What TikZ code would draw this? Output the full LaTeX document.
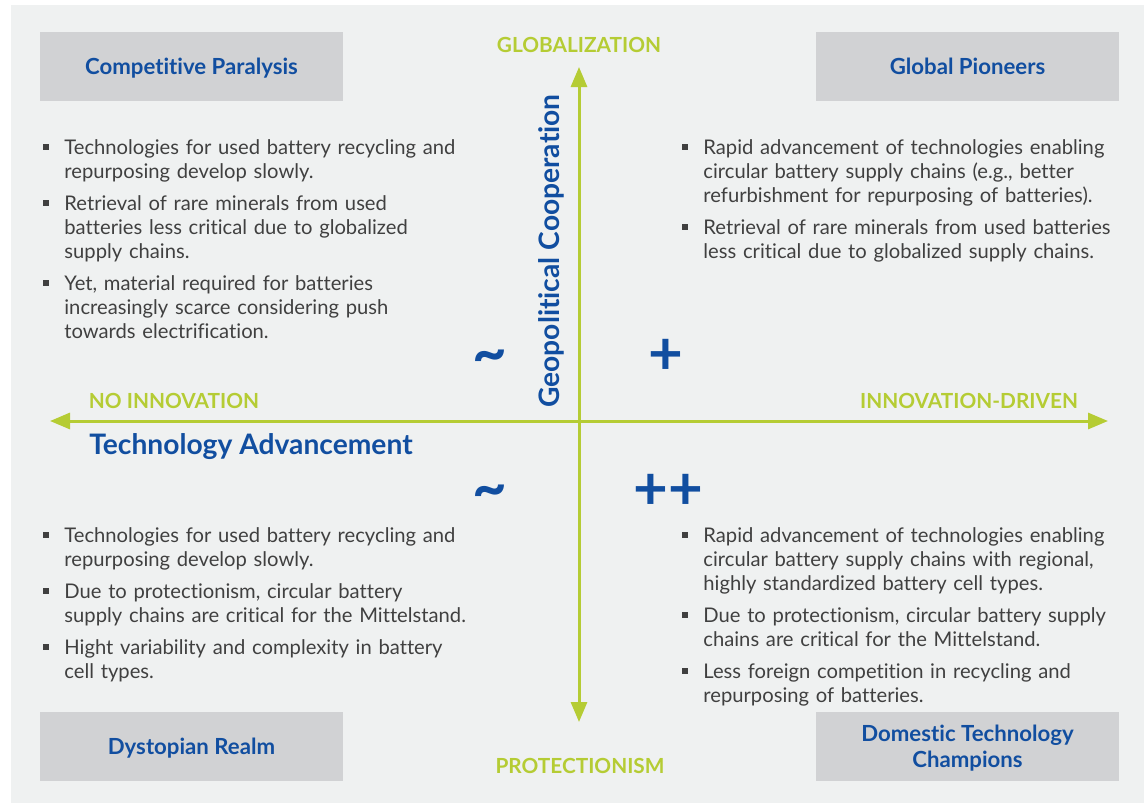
\documentclass[tikz,border=0pt]{standalone}
\usepackage{fontspec}
\setmainfont{Lato}[Ligatures={NoCommon}]
\usetikzlibrary{arrows.meta,calc}
\definecolor{bgc}{RGB}{239,241,241}
\definecolor{boxc}{RGB}{209,210,212}
\definecolor{bluec}{RGB}{17,78,160}
\definecolor{greenc}{RGB}{181,204,52}
\definecolor{textc}{RGB}{64,64,64}
\tikzset{
  titlebox/.style={fill=boxc, minimum width=151.5pt, minimum height=34.5pt, inner sep=0pt,
    text=bluec, font=\fontsize{11.1}{13}\selectfont\bfseries, align=center, text depth=0pt},
  bul/.style={anchor=base west, inner sep=0pt, text width=240pt, align=left,
    text=textc, font=\fontsize{10.1}{12}\selectfont},
  sq/.style={fill=textc, minimum size=3.4pt, inner sep=0pt},
  glab/.style={text=greenc, font=\fontsize{10.4}{11}\selectfont\bfseries, inner sep=0pt},
  axlab/.style={text=bluec, font=\fontsize{14.1}{16}\selectfont\bfseries, inner sep=0pt},
  sym/.style={text=bluec, font=\fontsize{30}{32}\selectfont\bfseries, inner sep=0pt},
  axis/.style={draw=greenc, line width=1.5pt, -{Triangle[length=10pt,width=8pt]}}
}
\begin{document}
\begin{tikzpicture}[x=0.5pt,y=-0.5pt]
\useasboundingbox (0,0) rectangle (1144,803);
\fill[bgc] (11,5) rectangle (1144,803);

% title boxes
\node[titlebox] (cp) at (191.5,66) {Competitive Paralysis};
\node[titlebox] (gp) at (967.5,66) {Global Pioneers};
\node[titlebox] (dr) at (191.5,746.5) {Dystopian Realm};
\node[titlebox] (dtc) at (967.5,746.5) {Domestic Technology\\Champions};

% axes
\coordinate (hl) at (50,421);
\coordinate (hr) at (1108,421);
\coordinate (vt) at (579,67);
\coordinate (vb) at (579,722);
\coordinate (hc) at (579,421);
\draw[axis] (hc) -- (hl);
\draw[axis] (hc) -- (hr);
\draw[axis] (hc) -- (vt);
\draw[axis] (hc) -- (vb);

% axis labels
\node[glab] (glob) at (579,45) {GLOBALIZATION};
\node[glab] (prot) at (580,766) {PROTECTIONISM};
\node[glab] (noin) at (174,401) {NO INNOVATION};
\node[glab] (indr) at (969,401) {INNOVATION-DRIVEN};
\node[axlab, anchor=west] (tech) at (89,447) {Technology Advancement};
\node[axlab, rotate=90] (geo) at (551,251) {Geopolitical Cooperation};

% symbols
\node[sym] (s1) at (490,362) {\char"007E};
\node[sym] (s2) at (666,357) {+};
\node[sym] (s3) at (490,497) {\char"007E};
\node[sym] (s4) at (668,492) {++};

% top-left bullets
\node[bul] (tl1) at (64,154) {Technologies for used battery recycling and\\repurposing develop slowly.};
\node[bul] (tl2) at (64,210) {Retrieval of rare minerals from used\\batteries less critical due to globalized\\supply chains.};
\node[bul] (tl3) at (64,290) {Yet, material required for batteries\\increasingly scarce considering push\\towards electrification.};
% top-right bullets
\node[bul] (tr1) at (703,154) {Rapid advancement of technologies enabling\\circular battery supply chains (e.g., better\\refurbishment for repurposing of batteries).};
\node[bul] (tr2) at (703,234) {Retrieval of rare minerals from used batteries\\less critical due to globalized supply chains.};
% bottom-left bullets
\node[bul] (bl1) at (64,542) {Technologies for used battery recycling and\\repurposing develop slowly.};
\node[bul] (bl2) at (64,598) {Due to protectionism, circular battery\\supply chains are critical for the Mittelstand.};
\node[bul] (bl3) at (64,654) {Hight variability and complexity in battery\\cell types.};
% bottom-right bullets
\node[bul] (br1) at (703,542) {Rapid advancement of technologies enabling\\circular battery supply chains with regional,\\highly standardized battery cell types.};
\node[bul] (br2) at (703,622) {Due to protectionism, circular battery supply\\chains are critical for the Mittelstand.};
\node[bul] (br3) at (703,678) {Less foreign competition in recycling and\\repurposing of batteries.};

% bullet squares
\foreach \n in {tl1,tl2,tl3,tr1,tr2,bl1,bl2,bl3,br1,br2,br3}{
  \node[sq] (sq\n) at ($(\n.base west)+(-18,-7)$) {};
}
\end{tikzpicture}
\end{document}
